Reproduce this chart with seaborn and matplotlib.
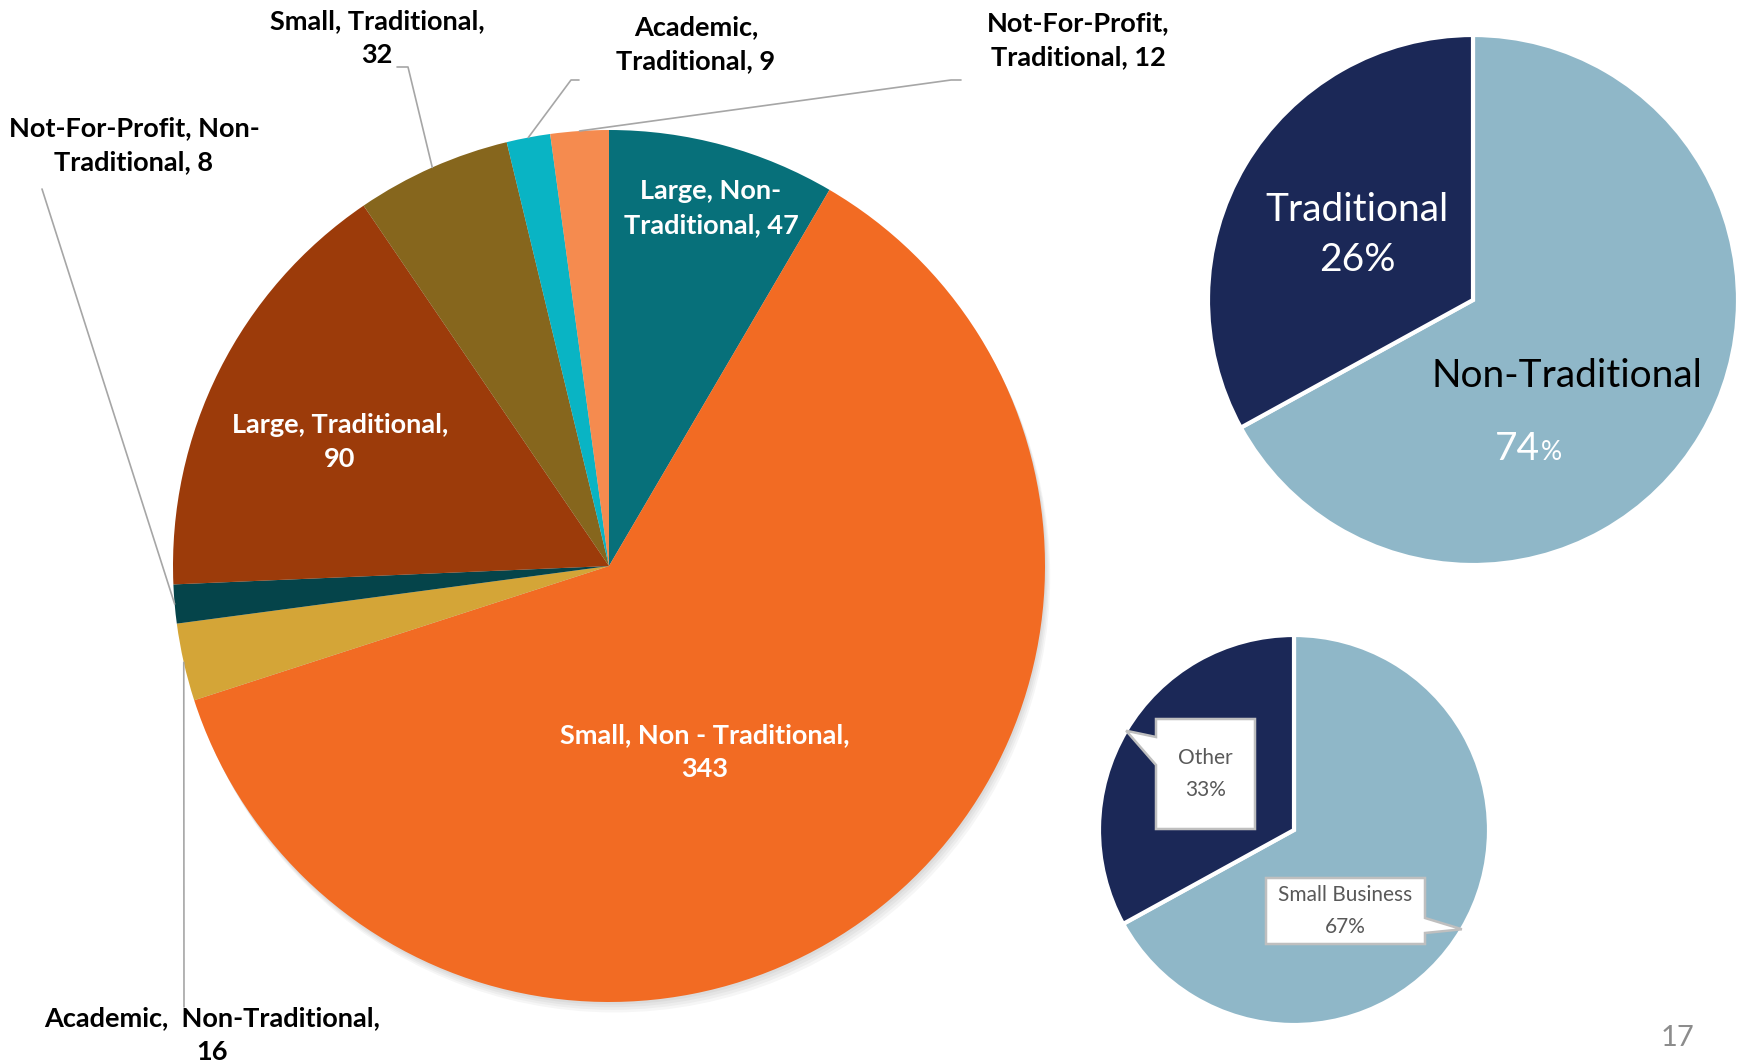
import numpy as np
import matplotlib
matplotlib.use("Agg")
import matplotlib.pyplot as plt
from matplotlib.patches import Circle, Polygon
import seaborn as sns

# ---- data ----
main_categories = ["Large, Non-\nTraditional", "Small, Non - Traditional",
                   "Academic,  Non-Traditional", "Not-For-Profit, Non-\nTraditional",
                   "Large, Traditional", "Small, Traditional",
                   "Academic,\nTraditional", "Not-For-Profit,\nTraditional"]
main_values = [47, 343, 16, 8, 90, 32, 9, 12]
value_on_new_line = [False, True, True, False, True, True, False, False]
main_colors = ["#07707A", "#F26B23", "#D4A537", "#05444A",
               "#9C3B0A", "#86661D", "#09B4C4", "#F58B4F"]

type_labels = ["Non-Traditional", "Traditional"]
type_pct_text = ["74", "26"]
type_slices = [67, 33]          # wedge sizes as drawn in the picture

size_labels = ["Small Business", "Other"]
size_pct = [67, 33]

pie_colors = ["#8FB7C8", "#1B2857"]

W, H = 1740, 1064

sns.set_theme(style="white")
plt.rcParams['font.family'] = ['Lato', 'DejaVu Sans']

fig = plt.figure(figsize=(W / 100, H / 100), dpi=100)
fig.patch.set_facecolor("white")


def pie_axes(cx, cy, r):
    ax = fig.add_axes([(cx - r) / W, 1 - (cy + r) / H, 2 * r / W, 2 * r / H])
    return ax


def mid_point(w, cx, cy, r):
    a = np.deg2rad((w.theta1 + w.theta2) / 2)
    return cx + r * np.cos(a), cy - r * np.sin(a)


# ---- main pie ----
MX, MY, MR = 609, 566, 436
ax = pie_axes(MX, MY, MR)
for k in range(1, 5):
    ax.add_patch(Circle((0.003 * k, -0.006 * k), 1.0, color="black",
                        alpha=0.035, lw=0, clip_on=False, zorder=0))
main_wedges, _ = ax.pie(main_values, colors=main_colors, startangle=90,
                        counterclock=False, radius=1,
                        wedgeprops=dict(linewidth=0))
for w in main_wedges:
    w.set_zorder(2)
ax.set_xlim(-1, 1)
ax.set_ylim(-1, 1)
ax.axis("off")

# ---- type pie (top right) ----
TX, TY, TR = 1473, 300, 265
ax2 = pie_axes(TX, TY, TR)
type_wedges, _ = ax2.pie(type_slices, colors=pie_colors, startangle=90,
                         counterclock=False, radius=1,
                         wedgeprops=dict(linewidth=3, edgecolor="white"))
ax2.set_xlim(-1, 1)
ax2.set_ylim(-1, 1)
ax2.axis("off")

# ---- size pie (bottom right) ----
SX, SY, SR = 1294, 830, 195
ax3 = pie_axes(SX, SY, SR)
size_wedges, _ = ax3.pie(size_pct, colors=pie_colors, startangle=90,
                         counterclock=False, radius=1,
                         wedgeprops=dict(linewidth=3, edgecolor="white"))
ax3.set_xlim(-1, 1)
ax3.set_ylim(-1, 1)
ax3.axis("off")

# ---- overlay in pixel coords ----
ov = fig.add_axes([0, 0, 1, 1])
ov.set_xlim(0, W)
ov.set_ylim(H, 0)
ov.axis("off")

label_pos = [(711, 208), (705, 752), (212, 1035), (134, 145),
             (340, 442), (377, 38), (696, 44), (1078, 40)]
inside = [True, True, False, False, True, False, False, False]
leader_start = {2: [(184, 1007)], 3: [(42, 189)],
                5: [(397, 67), (408, 67)], 6: [(579, 80), (571, 80)],
                7: [(961, 80), (951, 80)]}

for i, (cat, val) in enumerate(zip(main_categories, main_values)):
    sep = ",\n" if value_on_new_line[i] else ", "
    ov.text(label_pos[i][0], label_pos[i][1], f"{cat}{sep}{val}",
            ha="center", va="center", fontsize=19.5, fontweight="bold",
            color="white" if inside[i] else "black", linespacing=1.5,
            zorder=5)
    if i in leader_start:
        pts = leader_start[i] + [mid_point(main_wedges[i], MX, MY, MR)]
        xs, ys = zip(*pts)
        ov.plot(xs, ys, color="#A6A6A6", lw=1.2, zorder=4)

# type pie labels
ov.text(1357, 235, f"{type_labels[1]}\n{type_pct_text[1]}%", ha="center",
        va="center", fontsize=28, color="white", linespacing=1.5)
ov.text(1567, 376, type_labels[0], ha="center", va="center",
        fontsize=28, color="black")
ov.text(1540, 449, type_pct_text[0], ha="right", va="center",
        fontsize=28, color="white")
ov.text(1541, 453, "%", ha="left", va="center", fontsize=19, color="white")

# callouts on size pie
def callout(box, side, base, wedge, text):
    x0, y0, x1, y1 = box
    tip = mid_point(wedge, SX, SY, SR)
    if side == "left":
        verts = [(x0, y0), (x1, y0), (x1, y1), (x0, y1),
                 (x0, base[1]), tip, (x0, base[0])]
    else:
        verts = [(x0, y0), (x1, y0), (x1, base[0]), tip, (x1, base[1]),
                 (x1, y1), (x0, y1)]
    ov.add_patch(Polygon(verts, closed=True, facecolor="white",
                         edgecolor="#BFBFBF", lw=1.8, zorder=3))
    ov.text((x0 + x1) / 2, (y0 + y1) / 2, text, ha="center", va="center",
            fontsize=15, color="#595959", linespacing=1.7, zorder=4)


callout((1156, 719, 1255, 829), "left", (737, 765), size_wedges[1],
        f"{size_labels[1]}\n{size_pct[1]}%")
callout((1266, 878, 1425, 944), "right", (918, 933), size_wedges[0],
        f"{size_labels[0]}\n{size_pct[0]}%")

# page number
ov.text(1678, 1038, "17", ha="center", va="center", fontsize=21,
        color="#8C8C8C")

fig.savefig("out.png", dpi=100)
